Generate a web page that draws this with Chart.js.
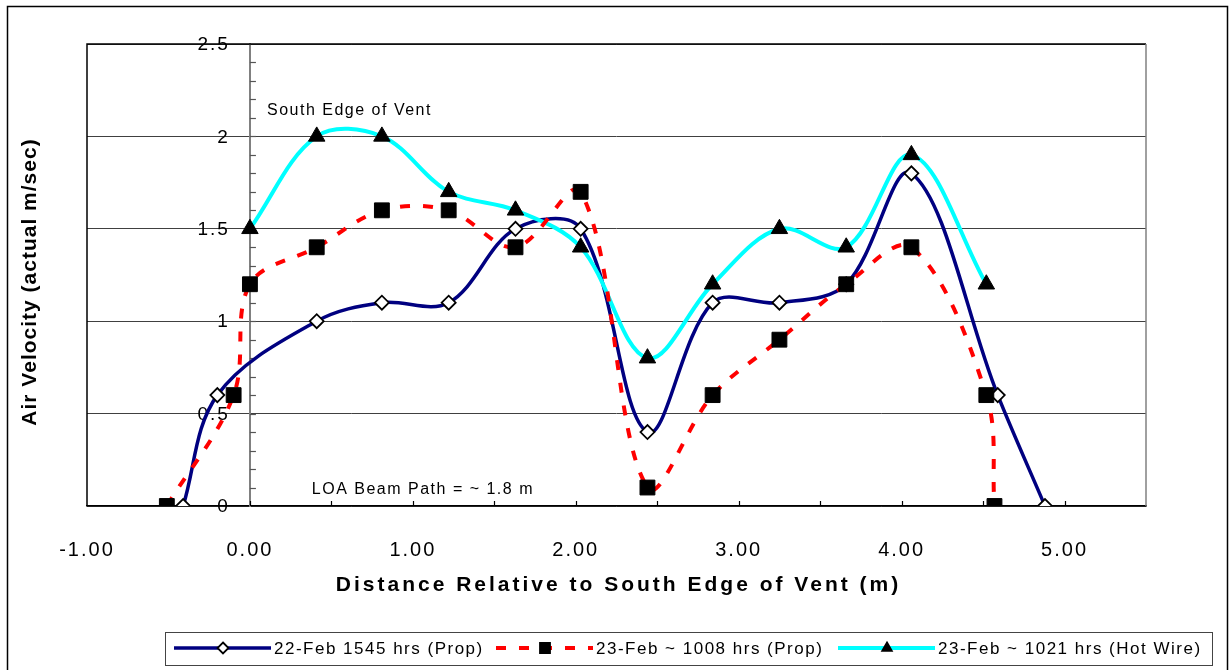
<!DOCTYPE html>
<html>
<head>
<meta charset="utf-8">
<title>Air Velocity vs Distance</title>
<script src="https://cdn.jsdelivr.net/npm/chart.js@4.4.0/dist/chart.umd.min.js"></script>
<style>
  html, body { margin: 0; padding: 0; background: #fff; }
  #wrap { width: 1231px; height: 670px; }
</style>
</head>
<body>
<div id="wrap"><canvas id="velocityChart"></canvas></div>
<script>
// distances (m) relative to south edge of vent, velocities in actual m/sec
const dist22Prop = [-0.41, -0.20, 0.41, 0.81, 1.22, 1.63, 2.03, 2.44, 2.84, 3.25, 3.66, 4.06, 4.59, 4.88];
const vel22Prop  = [0, 0.6, 1.0, 1.1, 1.1, 1.5, 1.5, 0.4, 1.1, 1.1, 1.2, 1.8, 0.6, 0];

const dist23Prop = [-0.51, -0.10, 0, 0.41, 0.81, 1.22, 1.63, 2.03, 2.44, 2.84, 3.25, 3.66, 4.06, 4.52, 4.57];
const vel23Prop  = [0, 0.6, 1.2, 1.4, 1.6, 1.6, 1.4, 1.7, 0.1, 0.6, 0.9, 1.2, 1.4, 0.6, 0];

const dist23Wire = [0, 0.41, 0.81, 1.22, 1.63, 2.03, 2.44, 2.84, 3.25, 3.66, 4.06, 4.52];
const vel23Wire  = [1.5, 2.0, 2.0, 1.7, 1.6, 1.4, 0.8, 1.2, 1.5, 1.4, 1.9, 1.2];

const seriesNames = ["22-Feb 1545 hrs (Prop)", "23-Feb ~ 1008 hrs (Prop)", "23-Feb ~ 1021 hrs (Hot Wire)"];

const xRange = [-1, 5.5];
const yRange = [0, 2.5];
const xTickLabels = ["-1.00", "0.00", "1.00", "2.00", "3.00", "4.00", "5.00"];
const yTickValues = [0, 0.5, 1, 1.5, 2, 2.5];
const yTickLabels = ["0", "0.5", "1", "1.5", "2", "2.5"];

const FONT = "'Liberation Sans', Arial, sans-serif";

const toPoints = (xs, ys) => xs.map((x, i) => ({ x: x, y: ys[i] }));

// draws a marker like the chart's point styles (used in the legend)
function marker(ctx, style, x, y, r, fill) {
  ctx.save();
  ctx.fillStyle = fill;
  ctx.strokeStyle = "#000";
  ctx.lineWidth = 1.8;
  ctx.beginPath();
  if (style === "rectRot") {
    ctx.moveTo(x, y - r); ctx.lineTo(x + r, y); ctx.lineTo(x, y + r); ctx.lineTo(x - r, y);
  } else if (style === "rect") {
    ctx.rect(x - r, y - r, 2 * r, 2 * r);
  } else {
    ctx.moveTo(x, y - r); ctx.lineTo(x + r * 0.87, y + r * 0.5); ctx.lineTo(x - r * 0.87, y + r * 0.5);
  }
  ctx.closePath();
  ctx.fill();
  ctx.stroke();
  ctx.restore();
}

const decor = {
  id: "decor",
  beforeDraw(chart) {
    chart.ctx.letterSpacing = "2px";
  },
  beforeDatasetsDraw(chart) {
    const { ctx, chartArea: a, scales: { x, y } } = chart;
    ctx.save();
    ctx.lineWidth = 1.5;
    ctx.strokeStyle = "#000";
    ctx.beginPath();
    ctx.moveTo(a.left, a.bottom); ctx.lineTo(a.left, a.top); ctx.lineTo(a.right, a.top);
    ctx.stroke();
    ctx.strokeStyle = "#808080";
    ctx.beginPath();
    ctx.moveTo(a.right, a.top); ctx.lineTo(a.right, a.bottom);
    ctx.stroke();

    // minor ticks on the vertical axis
    const x0 = x.getPixelForValue(0);
    ctx.strokeStyle = "#555";
    ctx.lineWidth = 1.2;
    for (let i = 1; i < 25; i++) {
      const py = Math.round(y.getPixelForValue(i / 10)) + 0.5;
      ctx.beginPath(); ctx.moveTo(x0, py); ctx.lineTo(x0 + 6, py); ctx.stroke();
    }
    // tick marks on the horizontal axis
    ctx.strokeStyle = "#000";
    for (let i = -1; i <= 10; i++) {
      const px = Math.round(x.getPixelForValue(i / 2)) + 0.5;
      ctx.beginPath(); ctx.moveTo(px, a.bottom); ctx.lineTo(px, a.bottom - 5); ctx.stroke();
    }

    // value labels of the vertical axis, left of the axis line
    ctx.fillStyle = "#000";
    ctx.font = "19px " + FONT;
    ctx.letterSpacing = "2px";
    ctx.textAlign = "right";
    ctx.textBaseline = "middle";
    yTickValues.forEach((v, i) => {
      ctx.fillText(yTickLabels[i], x0 - 20, y.getPixelForValue(v) + 1);
    });
    ctx.restore();
  },
  afterDraw(chart) {
    const { ctx, chartArea: a, scales: { x, y } } = chart;
    ctx.save();
    ctx.fillStyle = "#000";
    ctx.textBaseline = "middle";

    // notes inside the plot
    ctx.font = "16px " + FONT;
    ctx.letterSpacing = "1.5px";
    ctx.textAlign = "left";
    ctx.fillText("South Edge of Vent", x.getPixelForValue(0.105), y.getPixelForValue(2.14));
    ctx.fillText("LOA Beam Path = ~ 1.8 m", x.getPixelForValue(0.38), y.getPixelForValue(0.09));

    // axis titles
    ctx.font = "bold 21px " + FONT;
    ctx.textAlign = "center";
    ctx.letterSpacing = "3px";
    ctx.fillText("Distance Relative to South Edge of Vent (m)", (a.left + a.right) / 2 + 2, 585);
    ctx.save();
    ctx.translate(30, 282);
    ctx.rotate(-Math.PI / 2);
    ctx.letterSpacing = "1px";
    ctx.fillText("Air Velocity (actual m/sec)", 0, 0);
    ctx.restore();

    // legend
    const ly = 648;
    const starts = [174, 496, 838];
    ctx.fillStyle = "#fff";
    ctx.fillRect(165, 632, 1047, 33);
    ctx.strokeStyle = "#444";
    ctx.lineWidth = 1;
    ctx.strokeRect(165.5, 632.5, 1047, 33);
    ctx.font = "17px " + FONT;
    ctx.letterSpacing = "1.5px";
    ctx.textAlign = "left";
    chart.data.datasets.forEach((ds, i) => {
      const sx = starts[i];
      ctx.save();
      ctx.strokeStyle = ds.borderColor;
      ctx.lineWidth = ds.borderWidth;
      ctx.setLineDash(ds.borderDash || []);
      ctx.beginPath(); ctx.moveTo(sx, ly); ctx.lineTo(sx + 97, ly); ctx.stroke();
      ctx.restore();
      const r = ds.pointStyle === "rect" ? 5 : 5.5;
      marker(ctx, ds.pointStyle, sx + 49, ly, r, ds.pointBackgroundColor);
      ctx.fillStyle = "#000";
      ctx.fillText(seriesNames[i], sx + 100, ly + 1);
    });

    // outer frame
    ctx.strokeStyle = "#000";
    ctx.lineWidth = 1.5;
    ctx.strokeRect(7.5, 6.5, 1220, 670);
    ctx.restore();
  }
};

const config = {
  type: "scatter",
  data: {
    datasets: [
      {
        label: seriesNames[0],
        data: toPoints(dist22Prop, vel22Prop),
        showLine: true,
        borderColor: "#000080",
        borderWidth: 3.5,
        tension: 0.35,
        pointStyle: "rectRot",
        pointRadius: 7,
        pointBackgroundColor: "#fff",
        pointBorderColor: "#000",
        pointBorderWidth: 1.8,
        order: 3,
      },
      {
        label: seriesNames[1],
        data: toPoints(dist23Prop, vel23Prop),
        showLine: true,
        borderColor: "#FF0000",
        borderWidth: 4,
        borderDash: [10, 13],
        tension: 0.35,
        pointStyle: "rect",
        pointRadius: 10.5,
        pointBackgroundColor: "#000",
        pointBorderColor: "#000",
        pointBorderWidth: 1,
        order: 1,
      },
      {
        label: seriesNames[2],
        data: toPoints(dist23Wire, vel23Wire),
        showLine: true,
        borderColor: "#00FFFF",
        borderWidth: 4,
        tension: 0.35,
        pointStyle: "triangle",
        pointRadius: 9.5,
        pointBackgroundColor: "#000",
        pointBorderColor: "#000",
        pointBorderWidth: 1,
        order: 2,
      },
    ],
  },
  options: {
    responsive: true,
    maintainAspectRatio: false,
    animation: false,
    layout: { padding: { left: 87, right: 85, top: 44, bottom: 94 } },
    plugins: {
      legend: { display: false },
      tooltip: { enabled: false },
    },
    scales: {
      x: {
        type: "linear",
        min: xRange[0],
        max: xRange[1],
        afterFit: (scale) => { scale.height = 70; },
        ticks: {
          stepSize: 1,
          autoSkip: false,
          maxRotation: 0,
          padding: 24,
          color: "#000",
          font: { family: FONT, size: 20 },
          callback: (v) => {
            const i = xTickLabels.indexOf(Number(v).toFixed(2));
            return i >= 0 ? xTickLabels[i] : "";
          },
        },
        grid: { display: false },
        border: { display: true, color: "#000", width: 1.5 },
      },
      y: {
        type: "linear",
        min: yRange[0],
        max: yRange[1],
        position: { x: 0 },
        ticks: { stepSize: 0.5, display: false },
        grid: { color: "#404040", lineWidth: 1, drawTicks: false },
        border: { display: true, color: "#808080", width: 2 },
      },
    },
  },
  plugins: [decor],
};

const velocityChart = new Chart(document.getElementById("velocityChart"), config);
</script>
</body>
</html>
